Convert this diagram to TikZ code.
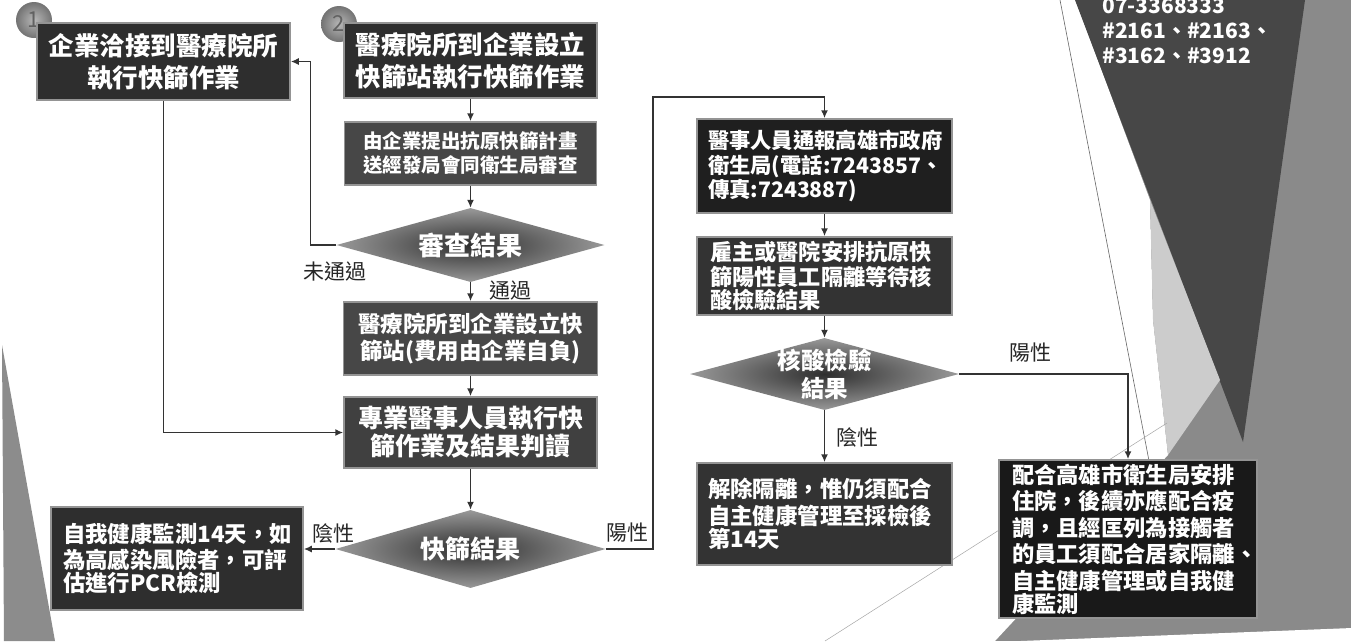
\documentclass[tikz,border=0pt]{standalone}
\usepackage{fontspec}
\setmainfont{Noto Sans CJK TC}
\usetikzlibrary{shapes.geometric,arrows.meta,calc}
\newcommand\fsz[2]{\fontsize{#1pt}{#2pt}\selectfont}
\tikzset{
  fbox/.style={rectangle, draw=black!42, line width=1.5pt, text=white, font=\bfseries, inner sep=0pt, align=center},
  lbox/.style={fbox, align=left, text width=#1},
  dec/.style={diamond, shade, inner color=black!82, outer color=black!40, inner sep=0pt},
  dtext/.style={text=white, font=\bfseries, align=center, inner sep=0pt},
  lbl/.style={text=black!85, inner sep=0pt, font=\fsz{21}{24}},
  arr/.style={draw=black!80, line width=1.6pt, -{Latex[length=8pt,width=7pt]}},
  num/.style={circle, shade, inner color=black!28, outer color=black!55, minimum size=36pt, inner sep=0pt, text=black!62, font=\fsz{22}{24}},
  ctext/.style={anchor=base west, text=white, font=\bfseries\fsz{21}{24}, inner sep=0pt},
}
\begin{document}
\begin{tikzpicture}[x=1pt,y=-1pt]
\fill[white] (0,0) rectangle (1351,641);
\useasboundingbox (0,0) rectangle (1351,641);
% background shapes: grey right part, white cut-outs, dark and light wedges
\fill[black!46] (990,0) rectangle (1351,641);
\fill[white] (989,-1) -- (1075,-1) -- (1150,200) -- (1153,320) -- (1168,455) -- (995,641) -- (989,642) -- cycle;
\fill[white] (995,642) -- (1352,628) -- (1352,642) -- cycle;
\fill[black!72] (1075,0) -- (1305,0) -- (1243,442) -- cycle;
\fill[black!20] (1150,200) -- (1220,380) -- (1168,455) -- (1153,320) -- cycle;
\draw[black!60, line width=0.6pt] (1060,0) -- (1150,466);
\draw[black!35, line width=0.5pt] (825,641) -- (1167,423);
\fill[black!45] (2,345) -- (55,641) -- (4,641) -- cycle;
% contact text
\node[ctext] (ct1) at (1102,13) {07-3368333};
\node[ctext] (ct2) at (1102,38) {\#2161、\#2163、};
\node[ctext] (ct3) at (1102,63.5) {\#3162、\#3912};
% number circles
\node[num] (n1) at (34,20) {1};
\node[num] (n2) at (339,24) {2};
% left column
\node[fbox, fill=black!82, minimum width=253pt, minimum height=77pt, font=\bfseries\fsz{25.5}{32}] (b1) at (163.5,61.5) {企業洽接到醫療院所\\執行快篩作業};
\node[fbox, fill=black!82, minimum width=253pt, minimum height=75pt, font=\bfseries\fsz{25.5}{32}] (b2) at (470.5,60.5) {醫療院所到企業設立\\快篩站執行快篩作業};
\node[fbox, fill=black!72, minimum width=252pt, minimum height=63pt, font=\bfseries\fsz{19.5}{24}] (b3) at (470.5,153.5) {由企業提出抗原快篩計畫\\送經發局會同衛生局審查};
\node[dec, minimum width=268pt, minimum height=74pt] (d1) at (470.5,245) {};
\node[dtext, font=\bfseries\fsz{26}{30}] (t1) at (d1.center) {審查結果};
\node[fbox, fill=black!72, minimum width=254pt, minimum height=73pt, font=\bfseries\fsz{22.5}{27}] (b4) at (470.5,338.5) {醫療院所到企業設立快\\篩站(費用由企業自負)};
\node[fbox, fill=black!75, minimum width=253pt, minimum height=71pt, font=\bfseries\fsz{25}{28}] (b5) at (470.5,432.5) {專業醫事人員執行快\\篩作業及結果判讀};
\node[dec, minimum width=270pt, minimum height=78pt] (d2) at (470.5,549) {};
\node[dtext, font=\bfseries\fsz{25}{30}] (t2) at (d2.center) {快篩結果};
\node[lbox=228pt, fill=black!82, minimum width=252pt, minimum height=103pt] (bl) at (177,558.5) {\fsz{22.4}{26.5}自我健康監測14天，如\\為高感染風險者，可評\\估進行PCR檢測};
% right column
\node[lbox=233pt, fill=black!88, minimum width=255pt, minimum height=94pt] (r1) at (824.5,166) {\fsz{21.3}{25.5}醫事人員通報高雄市政府\\衛生局(電話:7243857、\\傳真:7243887)};
\node[lbox=229pt, fill=black!80, minimum width=255pt, minimum height=78pt] (r2) at (824.5,276) {\fsz{22.2}{25}雇主或醫院安排抗原快\\篩陽性員工隔離等待核\\酸檢驗結果};
\node[dec, minimum width=269pt, minimum height=72pt] (d3) at (824.5,374) {};
\node[dtext, font=\bfseries\fsz{23.5}{28}] (t3) at (d3.center) {核酸檢驗\\結果};
\node[lbox=233pt, fill=black!80, minimum width=255pt, minimum height=102pt] (r3) at (824.5,514) {\fsz{22.4}{27}解除隔離，惟仍須配合\\自主健康管理至採檢後\\第14天};
\node[lbox=232pt, fill=black!90, minimum width=258pt, minimum height=158pt] (r4) at (1128,539) {\fsz{22.3}{26.6}配合高雄市衛生局安排\\住院，後續亦應配合疫\\調，且經匡列為接觸者\\的員工須配合居家隔離、\\自主健康管理或自我健\\康監測};
% labels
\node[lbl] (l1) at (335,272) {未通過};
\node[lbl] (l2) at (510,291) {通過};
\node[lbl] (l3) at (333,533) {陰性};
\node[lbl] (l4) at (627,533) {陽性};
\node[lbl] (l5) at (1030,353) {陽性};
\node[lbl] (l6) at (857,437) {陰性};
% connectors
\coordinate (k1) at (653,97);
\draw[arr] (b2) -- (b3);
\draw[arr] (b3) -- (d1);
\draw[arr] (d1) -- (b4);
\draw[arr] (d1.west) -- ++(-26,0) |- (b1.east);
\draw[arr] (b4) -- (b5);
\draw[arr] (b1.south) |- (b5.west);
\draw[arr] (b5) -- (d2);
\draw[arr] (d2.west) -- (d2.west -| bl.east);
\draw[arr] (d2.east) -| (k1) -| (r1.north);
\draw[arr] (r1) -- (r2);
\draw[arr] (r2) -- (d3);
\draw[arr] (d3) -- (r3);
\draw[arr] (d3.east) -| (r4.north);
\end{tikzpicture}
\end{document}
